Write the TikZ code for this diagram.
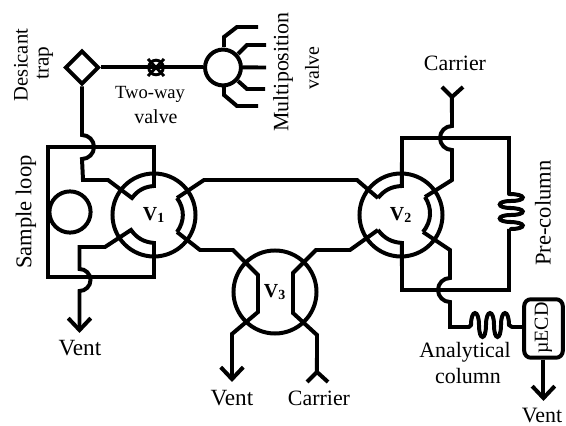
\documentclass[tikz,border=0pt]{standalone}
\usepackage{fontspec}
\setmainfont{Liberation Serif}
\usepackage{tikz}
\usetikzlibrary{arrows.meta,shapes.geometric}
\tikzset{
ARC/.style ={draw=black,line join=miter,line cap=butt,miter limit=4.00,line width=3pt},
THINARC/.style ={draw=black,line width=2.2pt},
VENTARC/.style ={ARC,-{Straight Barb[length=9pt,width=17pt,line width=3pt]}},
COIL/.style={draw=black,line cap=round,line width=3pt},
VALVE/.style={circle,draw=black,line width=3pt,minimum size=62.5pt,inner sep=0pt,font=\fontsize{15}{15}\selectfont\bfseries},
LABEL/.style={inner sep=0pt,align=center,font=\fontsize{#1}{#1}\selectfont},
LABEL/.default = 16.5,
}

\begin{document}
\begin{tikzpicture} [scale=0.02646] %1 unit is 1 px of the reference, y runs down
	\useasboundingbox (0,0) rectangle (566,-426);
	\node[VALVE] (V1) at (154,-215) {V\textsubscript{1}};
	\node[VALVE] (V2) at (401,-215) {V\textsubscript{2}};
	\node[VALVE] (V3) at (275,-292) {V\textsubscript{3}};
	\node[circle,draw=black,line width=3pt,minimum size=31pt,inner sep=0pt] (loop) at (70,-212) {};
	\node[circle,draw=black,line width=3pt,minimum size=27pt,inner sep=0pt] (multi) at (223,-67.5) {};
	\node[diamond,aspect=1,draw=black,line width=3pt,minimum size=25.5pt,inner sep=0pt] (trap) at (82,-67.5) {};
	\node[circle,draw=black,line width=2.2pt,minimum size=11pt,inner sep=0pt] (twoway) at (156,-67.5) {};
	\node[draw=black,line width=3pt,rounded corners=5pt,minimum width=29pt,minimum height=44pt,inner sep=0pt] (ecd) at (543.5,-328.5) {};
	% ports of the valves
	\coordinate (a1) at (132,-198);
	\coordinate (a2) at (154,-186);
	\coordinate (a3) at (177,-198);
	\coordinate (a4) at (177,-232);
	\coordinate (a5) at (154,-243);
	\coordinate (a6) at (131,-230);
	\coordinate (b1) at (378,-198);
	\coordinate (b2) at (402,-186);
	\coordinate (b3) at (425,-197);
	\coordinate (b4) at (423,-232);
	\coordinate (b5) at (402,-243);
	\coordinate (b6) at (378,-230);
	\coordinate (ventA) at (79.5,-333);
	\coordinate (ventB) at (232,-382);
	\coordinate (ventC) at (543.5,-401);
	\coordinate (carrierA) at (452,-97);
	\coordinate (carrierB) at (317,-372);
	% sample loop
	\path[VENTARC] (trap.south) -- (82,-135) arc[start angle=90,end angle=-90,radius=12] -- (83,-180) -- (108,-180) -- (a1) to[bend left=24] (a2) -- (154,-147) -- (48,-147) -- (48,-277) -- (154,-277) -- (a5) to[bend left=24] (a6) -- (105,-247) -- (79.5,-247) -- (79.5,-269) arc[start angle=90,end angle=-90,radius=11] -- (ventA);
	% V1, V2 and V3
	\path[ARC] (a3) -- (204,-180) -- (357,-180) -- (b1);
	\path[ARC] (a3) to[bend left=36] (a4);
	\path[VENTARC] (a4) -- (200,-250) -- (233,-250) -- (258,-275) -- (258,-312) -- (232,-334) -- (ventB);
	\path[ARC] (b6) -- (350,-250) -- (316,-250) -- (293,-273) -- (293,-313) -- (317,-335) -- (carrierB);
	\path[ARC] (307,-382) -- (carrierB) -- (328,-382);
	% pre-column side
	\path[ARC] (b1) to[bend left=24] (b2) -- (402,-138) -- (509,-138) -- (509,-194);
	\foreach \y in {194,208,222}
		\path[COIL] (509,-\y) .. controls (527,-\y) and (527,-\y-7) .. (511,-\y-7);
	\foreach \y in {201,215}
		\path[COIL] (511,-\y) .. controls (496,-\y) and (496,-\y-7) .. (511,-\y-7);
	\path[ARC] (509,-229) -- (509,-290) -- (402,-290) -- (b5) to[bend left=24] (b6);
	\path[ARC] (b3) to[bend left=36] (b4);
	\path[ARC] (442,-87) -- (carrierA) -- (463,-87);
	\path[ARC] (carrierA) -- (452,-126) arc[start angle=90,end angle=270,radius=12] -- (452,-180) -- (b3);
	% analytical column and detector
	\path[ARC] (b4) -- (450,-250) -- (450,-278) arc[start angle=90,end angle=270,radius=12] -- (450,-327) -- (469,-327);
	\foreach \x in {471,486,501}
		\path[COIL] (\x,-325) .. controls (\x,-309) and (\x+8,-309) .. (\x+8,-325);
	\foreach \x in {479,494}
		\path[COIL] (\x,-325) .. controls (\x,-341) and (\x+7,-341) .. (\x+7,-325);
	\path[COIL] (469,-327) -- (471,-325);
	\path[COIL] (509,-325) -- (512,-327);
	\path[ARC] (512,-327) -- (ecd.west |- 0,-327);
	\path[VENTARC] (ecd.south) -- (ventC);
	% desicant trap, two-way valve, multiposition valve
	\path[ARC] (trap.east) -- (multi.west);
	\path[THINARC] (148,-59) -- (164,-76);
	\path[THINARC] (164,-59) -- (148,-76);
	\path[ARC] (224,-47) -- (224,-37) -- (237,-27) -- (258,-27);
	\path[ARC] (238,-54) -- (247,-45) -- (266,-45);
	\path[ARC] (multi.east) -- (266,-67.5);
	\path[ARC] (238,-81) -- (247,-89) -- (265,-89);
	\path[ARC] (224,-87) -- (224,-95) -- (237,-106) -- (258,-106);
	% labels
	\node[LABEL=15.5,rotate=90] (desicant) at (21,-65) {Desicant};
	\node[LABEL=16,rotate=90] (traptext) at (45,-63) {trap};
	\node[LABEL=14] (twowaytext) at (150,-94) {Two-way};
	\node[LABEL=15] (valvetext) at (156,-117) {valve};
	\node[LABEL=16.5,rotate=90] (multitext) at (283,-72) {Multiposition};
	\node[LABEL=15,rotate=90] (multivalve) at (312,-68) {valve};
	\node[LABEL=17,rotate=90] (sample) at (26,-212) {Sample loop};
	\node[LABEL=17,rotate=90] (pre) at (543,-213) {Pre-column};
	\node[LABEL] (carrierTop) at (455,-63) {Carrier};
	\node[LABEL=17.5] (ventAtext) at (80,-348) {Vent};
	\node[LABEL=17.5] (ventBtext) at (232,-398) {Vent};
	\node[LABEL] (carrierBot) at (319,-398) {Carrier};
	\node[LABEL] (analytical) at (465,-352) {Analytical};
	\node[LABEL] (column) at (468,-376) {column};
	\node[LABEL=15,rotate=90] (ecdtext) at (543.5,-328) {µECD};
	\node[LABEL=16.5] (ventCtext) at (542,-415) {Vent};
\end{tikzpicture}
\end{document}
